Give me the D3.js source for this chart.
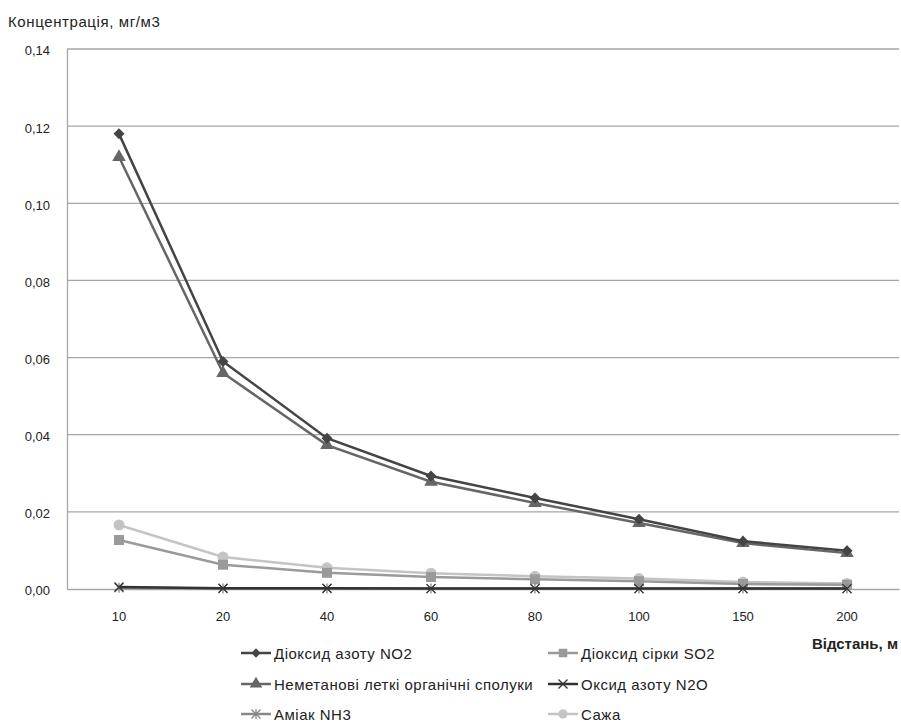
<!DOCTYPE html>
<html><head><meta charset="utf-8">
<script src="https://cdn.jsdelivr.net/npm/d3@7"></script>
<style>body{margin:0;background:#fff}svg{display:block}text{font-family:"Liberation Sans",Arial,sans-serif;fill:#222}</style>
</head><body><svg id="c" width="901" height="722"></svg>
<script>
const categories = ["10","20","40","60","80","100","150","200"];
const no2   = [0.118,0.059,0.0391,0.0293,0.0236,0.0181,0.0124,0.0099];
const so2   = [0.0127,0.0063,0.0042,0.0031,0.0025,0.0020,0.0013,0.0011];
const nmvoc = [0.112,0.056,0.0373,0.0278,0.0223,0.0171,0.0119,0.0093];
const n2o   = [0.0005,0.0002,0.0002,0.0001,0.0001,0.0001,0.0001,0.0001];
const nh3   = [0.0003,0.0001,0.0001,0.0001,0.0001,0.0001,0.0001,0.0001];
const soot  = [0.0166,0.0083,0.0055,0.0041,0.0033,0.0027,0.0018,0.0014];
const yTicks = [0,0.02,0.04,0.06,0.08,0.10,0.12,0.14];
const names = ["Діоксид азоту NO2","Діоксид сірки SO2","Неметанові леткі органічні сполуки","Оксид азоту  N2O","Аміак NH3","Сажа"];

const series = [
 {name:names[0], v:no2, color:"#444", marker:"diamond"},
 {name:names[1], v:so2, color:"#9a9a9a", marker:"square"},
 {name:names[2], v:nmvoc, color:"#666", marker:"triangle"},
 {name:names[3], v:n2o, color:"#333", marker:"x"},
 {name:names[4], v:nh3, color:"#888", marker:"star"},
 {name:names[5], v:soot, color:"#c4c4c4", marker:"circle"}
];
const svg = d3.select("#c");
const L=67,R=899,T=49,B=589;
const x = d3.scaleBand().domain(categories).range([L,R]);
const y = d3.scaleLinear().domain([0,0.14]).range([B,T]);
const fmt = d3.format(".2f");

svg.append("g").selectAll("line").data(yTicks.filter(d=>d>0)).join("line")
 .attr("x1",L).attr("x2",R).attr("y1",d=>y(d)).attr("y2",d=>y(d))
 .attr("stroke","#a6a6a6").attr("stroke-width",1.3);
const ya = svg.append("g").attr("transform",`translate(${L},0)`)
 .call(d3.axisLeft(y).tickValues(yTicks).tickSize(0).tickPadding(17).tickFormat(d=>fmt(d).replace(".",",")));
ya.select(".domain").attr("stroke","#a6a6a6").attr("stroke-width",1.3);
ya.selectAll("text").style("font-size","13px").style("fill","#222").style("font-family","Liberation Sans, Arial").attr("dy","0.45em");
const xa = svg.append("g").attr("transform",`translate(0,${B})`)
 .call(d3.axisBottom(x).tickSize(0).tickPadding(23));
xa.select(".domain").attr("stroke","#a6a6a6").attr("stroke-width",1.3);
xa.selectAll("text").style("font-size","13px").style("fill","#222").style("font-family","Liberation Sans, Arial");

svg.append("text").attr("x",8).attr("y",27).style("font-size","15px").style("letter-spacing","0.6px").text("Концентрація, мг/м3");
svg.append("text").attr("x",898).attr("y",649).attr("text-anchor","end").style("font-size","15px").style("font-weight","bold").text("Відстань, м");

function drawMarker(g, type, cx, cy, color, s){
 s = s||1;
 const r = 5.5*s;
 if(type==="diamond") g.append("path").attr("d",`M${cx},${cy-r}L${cx+r},${cy}L${cx},${cy+r}L${cx-r},${cy}Z`).attr("fill",color);
 else if(type==="square") g.append("rect").attr("x",cx-5*s).attr("y",cy-5*s).attr("width",10*s).attr("height",10*s).attr("fill",color);
 else if(type==="triangle") g.append("path").attr("d",d3.symbol(d3.symbolTriangle, 80*s)()).attr("transform",`translate(${cx},${cy})`).attr("fill",color);
 else if(type==="circle") g.append("circle").attr("cx",cx).attr("cy",cy).attr("r",5.5*s).attr("fill",color);
 else if(type==="x") g.append("path").attr("d",`M${cx-4.5},${cy-4.5}L${cx+4.5},${cy+4.5}M${cx-4.5},${cy+4.5}L${cx+4.5},${cy-4.5}`).attr("stroke",color).attr("stroke-width",1.3);
 else if(type==="star") g.append("path").attr("d",`M${cx-4.5},${cy-4.5}L${cx+4.5},${cy+4.5}M${cx-4.5},${cy+4.5}L${cx+4.5},${cy-4.5}M${cx},${cy-5}L${cx},${cy+5}`).attr("stroke",color).attr("stroke-width",1.3);
}
const line = d3.line().x((d,i)=>x(categories[i])+x.bandwidth()/2).y(d=>y(d));
const order = [5,1,4,3,2,0];
order.forEach(k=>{
 const s=series[k];
 const g=svg.append("g");
 g.append("path").attr("d",line(s.v)).attr("fill","none").attr("stroke",s.color).attr("stroke-width",2.5);
 s.v.forEach((d,i)=>drawMarker(g,s.marker,x(categories[i])+x.bandwidth()/2,y(d),s.color));
});

const legPos = [[241,653],[548,653],[241,684],[548,684],[241,714],[548,714]];
series.forEach((s,i)=>{
 const [lx,ly]=legPos[i];
 const g=svg.append("g");
 g.append("line").attr("x1",lx).attr("x2",lx+30).attr("y1",ly).attr("y2",ly).attr("stroke",s.color).attr("stroke-width",2.5);
 drawMarker(g,s.marker,lx+15,ly,s.color,0.85);
 g.append("text").attr("x",lx+33).attr("y",ly+5.5).style("font-size","15px").style("letter-spacing","0.5px").text(s.name);
});
</script></body></html>
